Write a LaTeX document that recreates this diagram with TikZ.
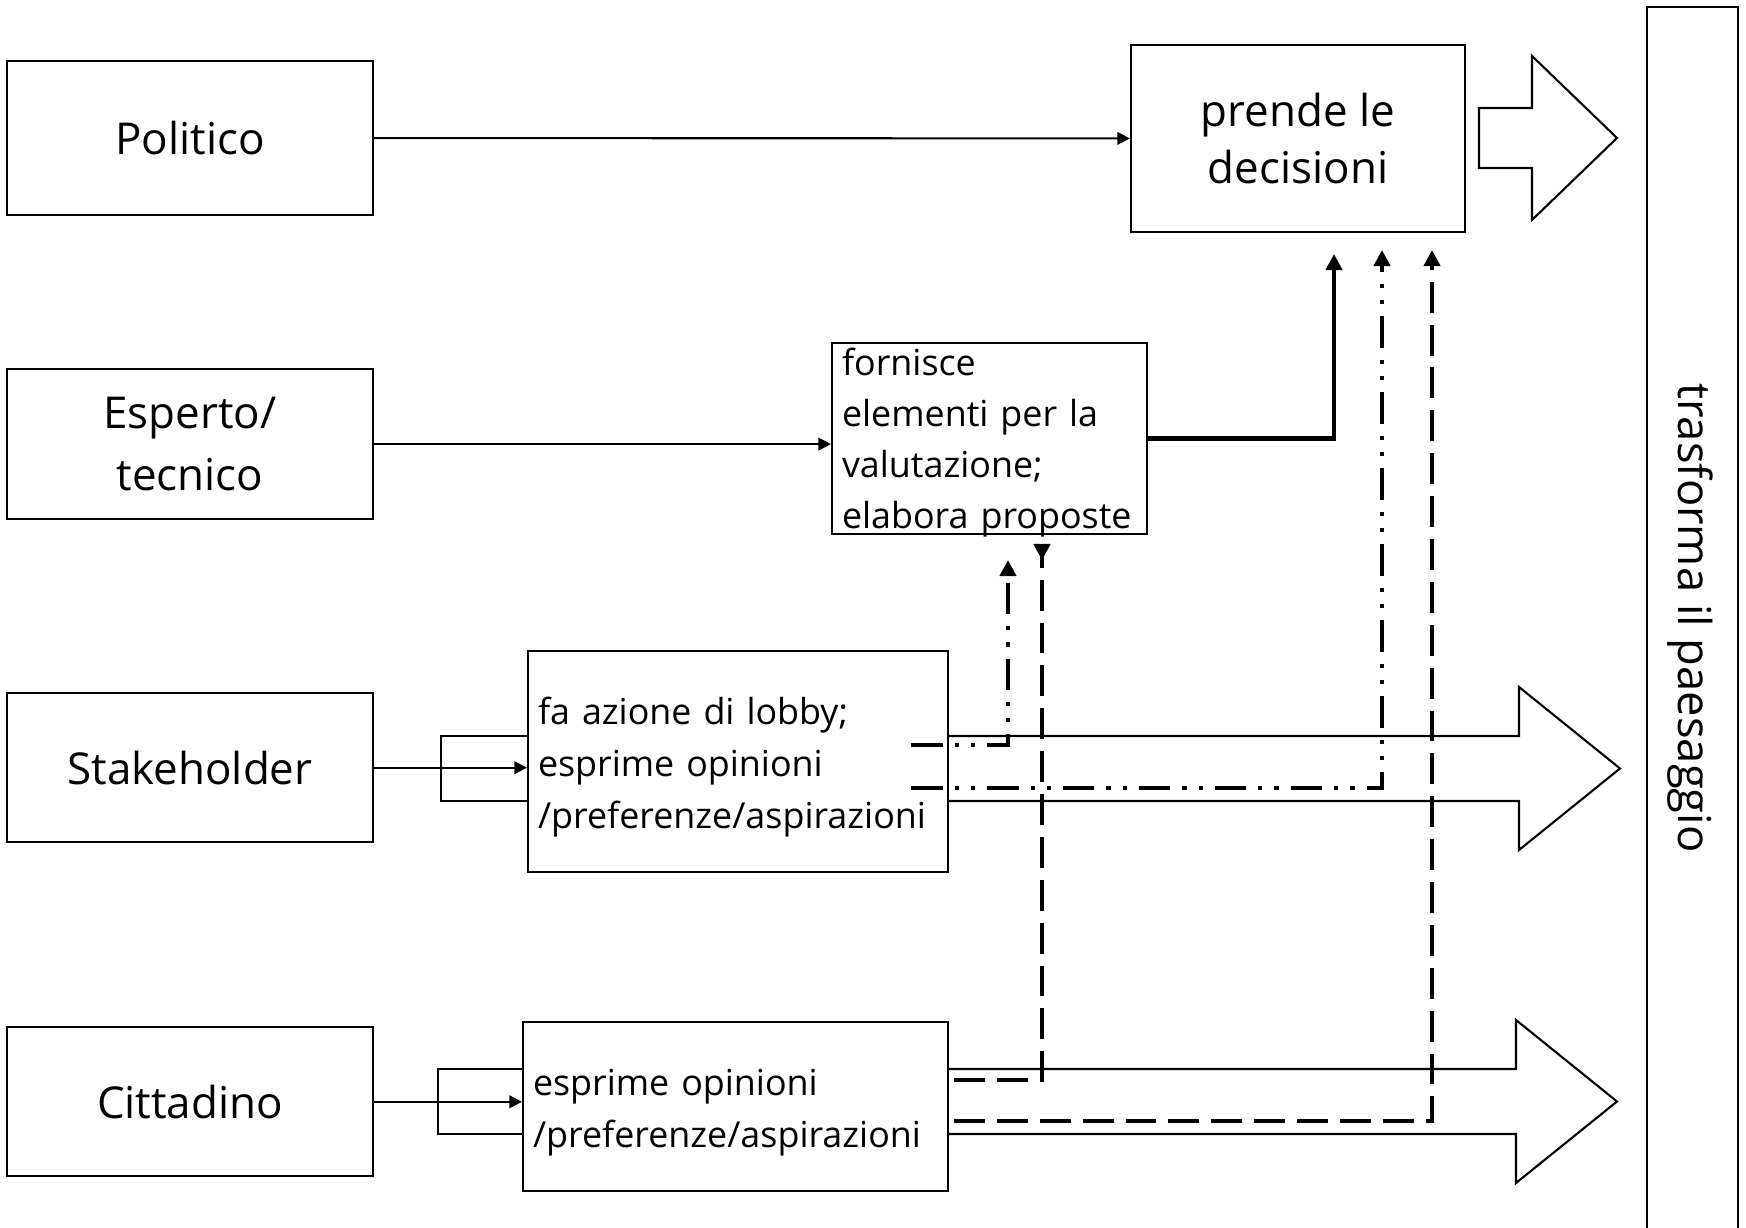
\documentclass[tikz,border=0pt]{standalone}
\usepackage{fontspec}
\setmainfont{Open Sans}
\usetikzlibrary{arrows.meta, positioning}

\begin{document}
\begin{tikzpicture}[
  actor/.style={rectangle, draw, line width=0.6pt, minimum width=3.66cm,
    minimum height=1.5cm, font=\fontsize{12.5}{16}\selectfont, align=center},
  role/.style={rectangle, draw, line width=0.6pt, inner xsep=0.1cm,
    font=\fontsize{10.2}{14.8}\selectfont, align=left},
  arrow/.style={-{Triangle[length=3.6pt, width=3.6pt]}, line width=0.6pt},
  flow/.style={-{Triangle[length=4.6pt, width=4.6pt]}, line width=1.2pt},
  lobby/.style={flow, dash pattern=on 9pt off 3.4pt on 1.2pt off 3.4pt on 1.2pt off 3.4pt},
  voice/.style={flow, dash pattern=on 8.8pt off 3.4pt},
  band/.style={line width=0.6pt}
]
  \useasboundingbox (0,0) rectangle (17.46,-12.28);

  \node[actor, minimum height=1.54cm] (pol) at (1.90,-1.38) {Politico};
  \node[actor, below=1.52cm of pol, font=\fontsize{12.5}{17.5}\selectfont] (esp) {Esperto/\\tecnico};
  \node[actor, minimum height=1.49cm, below=1.72cm of esp] (stk) {Stakeholder};
  \node[actor, minimum height=1.49cm, below=1.83cm of stk] (cit) {Cittadino};

  \node[actor, minimum width=3.34cm, minimum height=1.87cm] (dec) at (12.98,-1.385) {prende le\\decisioni};
  \node[role, inner ysep=-1.5pt, minimum height=1.91cm, text width=3.15cm-0.2cm, text height=10.3pt,
    font=\fontsize{10.2}{14.5}\selectfont] (forn) at (9.895,-4.385)
    {fornisce\\elementi per la\\valutazione;\\elabora proposte};
  \node[role, minimum height=2.21cm, text width=4.0cm, text height=11pt] (lob) at (7.38,-7.615)
    {fa azione di lobby;\\esprime opinioni\\/preferenze/aspirazioni};
  \node[role, minimum height=1.69cm, text width=4.05cm, text height=11pt] (opi) at (7.355,-11.065)
    {esprime opinioni\\/preferenze/aspirazioni};

  % paesaggio
  \draw[band] (16.47,-0.07) rectangle (17.38,-12.45);
  \node[rotate=-90, font=\fontsize{12.9}{15}\selectfont] (pae) at (16.90,-6.18) {trasforma il paesaggio};

  % frecce larghe
  \draw[band] (14.79,-1.08) -- (15.32,-1.08) -- (15.32,-0.56) -- (16.17,-1.38)
    -- (15.32,-2.20) -- (15.32,-1.68) -- (14.79,-1.68) -- cycle;
  \draw[band] (lob.east |- 0,-7.36) -- (15.19,-7.36) -- (15.19,-6.87) -- (16.20,-7.685)
    -- (15.19,-8.50) -- (15.19,-8.01) -- (lob.east |- 0,-8.01);
  \draw[band] (lob.west |- 0,-7.36) -- (4.41,-7.36) -- (4.41,-8.01) -- (lob.west |- 0,-8.01);
  \draw[band] (opi.east |- 0,-10.69) -- (15.16,-10.69) -- (15.16,-10.20) -- (16.17,-11.015)
    -- (15.16,-11.83) -- (15.16,-11.34) -- (opi.east |- 0,-11.34);
  \draw[band] (opi.west |- 0,-10.69) -- (4.38,-10.69) -- (4.38,-11.34) -- (opi.west |- 0,-11.34);

  \draw[arrow] (pol) -- (dec);
  \draw[arrow] (esp.east) -- (esp.east -| forn.west);
  \draw[arrow] (stk.east) -- (stk.east -| lob.west);
  \draw[arrow] (cit.east) -- (cit.east -| opi.west);

  \coordinate (d1) at (13.34,-2.54);
  \coordinate (d2) at (13.82,-2.50);
  \coordinate (d3) at (14.32,-2.50);
  \coordinate (e1) at (10.08,-5.60);
  \coordinate (e2) at (10.42,-5.44);
  \coordinate (s1) at (9.11,-7.45);
  \coordinate (s2) at (9.11,-7.88);
  \coordinate (c1) at (9.54,-10.80);
  \coordinate (c2) at (9.54,-11.21);

  \draw[flow] (forn.east) -| (d1);
  \draw[lobby] (s1) -| (e1);
  \draw[lobby] (s2) -| (d2);
  \draw[voice, -{Triangle[length=4.6pt, width=4.6pt, reversed]}] (c1) -| (e2);
  \draw[voice] (c2) -| (d3);
\end{tikzpicture}
\end{document}
